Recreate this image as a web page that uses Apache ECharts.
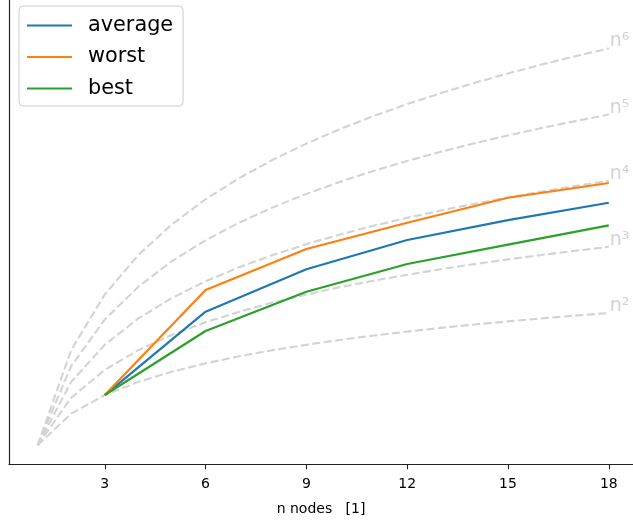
<!DOCTYPE html>
<html>
<head>
<meta charset="utf-8">
<script src="https://cdn.jsdelivr.net/npm/echarts@6/dist/echarts.min.js"></script>
<style>
html,body{margin:0;padding:0;background:#fff;}
#chart{width:633px;height:524px;}
</style>
</head>
<body>
<div id="chart"></div>
<script>
// x values
var nodes = [3, 6, 9, 12, 15, 18];
var xTicks = [3, 6, 9, 12, 15, 18];
var average = [9, 343, 2190, 7870, 18800, 40100];
var worst   = [9, 885, 5310, 16750, 49900, 94900];
var best    = [9, 148, 822, 2755, 6430, 14950];
// reference growth curves n^k at n = 1..18
var refN = [1,2,3,4,5,6,7,8,9,10,11,12,13,14,15,16,17,18];
var n2 = [1,4,9,16,25,36,49,64,81,100,121,144,169,196,225,256,289,324];
var n3 = [1,8,27,64,125,216,343,512,729,1000,1331,1728,2197,2744,3375,4096,4913,5832];
var n4 = [1,16,81,256,625,1296,2401,4096,6561,10000,14641,20736,28561,38416,50625,65536,83521,104976];
var n5 = [1,32,243,1024,3125,7776,16807,32768,59049,100000,161051,248832,371293,537824,759375,1048576,1419857,1889568];
var n6 = [1,64,729,4096,15625,46656,117649,262144,531441,1000000,1771561,2985984,4826809,7529536,11390625,16777216,24137569,34012224];
var refLabels = ['n\u00b2','n\u00b3','n\u2074','n\u2075','n\u2076'];

var font = 'DejaVu Sans';
function pairs(xs, ys){ return xs.map(function(x,i){ return [x, ys[i]]; }); }

var refSeries = [n2, n3, n4, n5, n6].map(function(arr, i){
  return {
    type: 'line', name: refLabels[i], data: pairs(refN, arr),
    showSymbol: false, symbol: 'none', silent: true, z: 1,
    lineStyle: {color: '#d3d3d3', width: 2.1, type: [8, 3.5]},
    endLabel: {show: true, formatter: refLabels[i], color: '#d3d3d3',
      fontFamily: font, fontSize: 19, distance: 1, offset: [0, -7]},
    animation: false
  };
});

var dataSeries = [
  {name: 'average', data: average, color: '#1f77b4'},
  {name: 'worst', data: worst, color: '#ff7f0e'},
  {name: 'best', data: best, color: '#2ca02c'}
].map(function(s){
  return {
    type: 'line', name: s.name, data: pairs(nodes, s.data),
    showSymbol: false, symbol: 'none', z: 3, color: s.color,
    lineStyle: {color: s.color, width: 2.2}, animation: false
  };
});

var chart = echarts.init(document.getElementById('chart'), null, {renderer: 'canvas'});
chart.setOption({
  animation: false,
  textStyle: {fontFamily: font},
  grid: {left: 9, top: 0, right: 0, height: 464.3, containLabel: false},
  legend: {
    data: ['average', 'worst', 'best'],
    orient: 'vertical', left: 19, top: 6,
    itemWidth: 45, itemHeight: 2.2, icon: 'rect', itemGap: 10.5,
    padding: [9, 10, 7, 8],
    textStyle: {fontFamily: font, fontSize: 20.8, color: '#000', lineHeight: 21, padding: [0, 0, 0, 11]},
    backgroundColor: 'rgba(255,255,255,0.8)',
    borderColor: '#cccccc', borderWidth: 1, borderRadius: 4
  },
  xAxis: {
    type: 'value', min: 0.15, max: 18.72,
    name: 'n nodes   [1]', nameLocation: 'middle', nameGap: 38,
    nameTextStyle: {fontFamily: font, fontSize: 14, color: '#000'},
    axisLine: {show: true, onZero: false, lineStyle: {color: '#222', width: 1.2}},
    axisTick: {show: true, customValues: xTicks, length: 5, lineStyle: {color: '#222', width: 1.1}},
    axisLabel: {show: true, customValues: xTicks, fontFamily: font, fontSize: 14, color: '#000', margin: 13},
    splitLine: {show: false}
  },
  yAxis: {
    type: 'log', min: 0.4365, max: 2.82e8,
    axisLine: {show: true, lineStyle: {color: '#222', width: 1.2}},
    axisTick: {show: false}, axisLabel: {show: false},
    splitLine: {show: false}, minorTick: {show: false}
  },
  series: refSeries.concat(dataSeries)
});
</script>
</body>
</html>
